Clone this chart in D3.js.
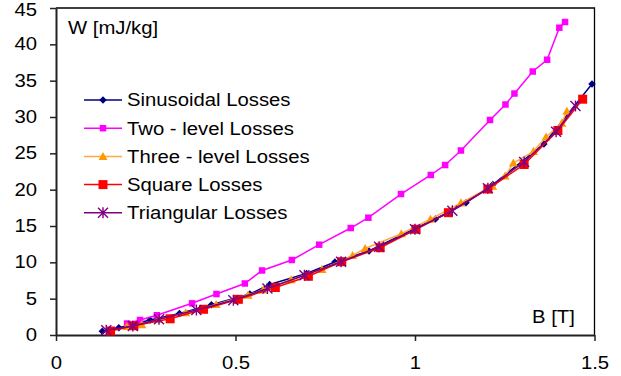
<!DOCTYPE html>
<html>
<head>
<meta charset="utf-8">
<script src="https://cdn.jsdelivr.net/npm/d3@7"></script>
<style>
  html, body { margin: 0; padding: 0; background: #fff; }
  svg { display: block; }
  text { font-family: "Liberation Sans", Arial, sans-serif; fill: #000; }
</style>
</head>
<body>
<svg id="chart" width="621" height="376"></svg>
<script>
// Flux density B [T] and energy loss W [mJ/kg] for each excitation waveform
const sinB = [0.129, 0.175, 0.262, 0.344, 0.433, 0.540, 0.595, 0.698, 0.777, 0.872, 0.997, 1.057, 1.142, 1.217, 1.359, 1.493];
const sinW = [0.50, 1.00, 2.06, 2.95, 4.15, 5.64, 6.95, 8.46, 10.05, 11.56, 14.59, 15.96, 18.20, 20.71, 26.28, 34.54];

const twoB = [0.198, 0.234, 0.281, 0.379, 0.447, 0.526, 0.574, 0.657, 0.733, 0.821, 0.870, 0.961, 1.044, 1.084, 1.128, 1.209, 1.252, 1.277, 1.328, 1.368, 1.402, 1.418];
const twoW = [1.58, 2.06, 2.72, 4.36, 5.64, 7.09, 8.88, 10.32, 12.43, 14.72, 16.14, 19.40, 22.02, 23.39, 25.39, 29.59, 31.72, 33.23, 36.26, 37.88, 42.29, 43.07];

const threeB = [0.197, 0.239, 0.285, 0.361, 0.446, 0.535, 0.577, 0.655, 0.741, 0.826, 0.861, 0.962, 1.043, 1.128, 1.216, 1.251, 1.274, 1.330, 1.365, 1.409, 1.423];
const threeW = [1.17, 1.44, 2.13, 3.07, 4.20, 5.50, 6.19, 7.61, 9.04, 10.94, 11.90, 13.94, 15.93, 18.19, 20.50, 21.88, 23.67, 25.28, 27.25, 29.17, 30.80];

const sqB = [0.152, 0.217, 0.318, 0.411, 0.508, 0.611, 0.703, 0.796, 0.903, 1.003, 1.093, 1.203, 1.304, 1.398, 1.467];
const sqW = [0.55, 1.27, 2.23, 3.54, 4.91, 6.54, 8.08, 10.09, 12.01, 14.55, 16.83, 20.09, 23.46, 28.14, 32.45];

const triB = [0.140, 0.214, 0.287, 0.391, 0.494, 0.589, 0.692, 0.794, 0.900, 1.000, 1.104, 1.203, 1.304, 1.393, 1.447];
const triW = [0.65, 1.24, 2.16, 3.44, 4.78, 6.40, 8.22, 10.09, 12.15, 14.55, 17.10, 20.19, 23.81, 27.98, 31.51];

const xTicks = [0, 0.5, 1, 1.5];
const xTickLabels = ["0", "0.5", "1", "1.5"];
const yTicks = [0, 5, 10, 15, 20, 25, 30, 35, 40, 45];

const seriesNames = ["Sinusoidal Losses", "Two - level Losses", "Three - level Losses", "Square Losses", "Triangular Losses"];

const series = [
  { name: seriesNames[0], B: sinB, W: sinW, line: "#000080", fill: "#000080", marker: "diamond", size: 7.5 },
  { name: seriesNames[1], B: twoB, W: twoW, line: "#FF00FF", fill: "#FF00FF", marker: "square", size: 6.5 },
  { name: seriesNames[2], B: threeB, W: threeW, line: "#FFAA44", fill: "#FF9900", marker: "triangle", size: 9 },
  { name: seriesNames[3], B: sqB, W: sqW, line: "#FF0000", fill: "#FF0000", marker: "square", size: 9 },
  { name: seriesNames[4], B: triB, W: triW, line: "#800080", fill: "#800080", marker: "star", size: 10 }
];

const FONT = 17.5, STRETCH = 1.16;
const svg = d3.select("#chart");
const plotL = 56, plotR = 594.5, plotT = 8, plotB = 335;

const x = d3.scaleLinear().domain([0, 1.5]).range([plotL, plotR]);
const y = d3.scaleLinear().domain([0, 45]).range([plotB, plotT]);

// widen glyphs horizontally while keeping their anchor position
function stretchText(sel) {
  sel.each(function (d) {
    const t = d3.select(this);
    const tx = +t.attr("x") || 0;
    // the topmost label sits a little lower so it stays inside the canvas
    const ty = d === 45 ? 2 : 0;
    t.attr("x", 0).attr("transform", `translate(${tx},${ty}) scale(${STRETCH},1)`);
  });
}

// plot frame (top and right edges)
svg.append("path")
  .attr("d", `M${plotL},${plotT}H${plotR}V${plotB}`)
  .attr("fill", "none").attr("stroke", "#000").attr("stroke-width", 1.3);

// axes
const yAxis = d3.axisLeft(y).tickValues(yTicks).tickFormat(d3.format("d"))
  .tickSize(6).tickSizeOuter(0).tickPadding(13);
const gy = svg.append("g").attr("transform", `translate(${plotL},0)`).call(yAxis);

const xAxis = d3.axisBottom(x).tickValues(xTicks).tickFormat((d, i) => xTickLabels[i])
  .tickSize(6).tickSizeOuter(0).tickPadding(16);
const gx = svg.append("g").attr("transform", `translate(0,${plotB})`).call(xAxis);

[gx, gy].forEach(g => {
  g.select(".domain").attr("stroke", "#222").attr("stroke-width", 2);
  g.selectAll(".tick line").attr("stroke", "#222").attr("stroke-width", 1.5);
  g.selectAll(".tick text").style("font-size", FONT + "px")
    .style("font-family", '"Liberation Sans", Arial, sans-serif').attr("fill", "#000");
});
gy.selectAll(".tick text").call(stretchText);
gx.selectAll(".tick text").attr("transform", `scale(${STRETCH},1)`);

// axis titles
svg.append("text").attr("transform", `translate(68,34) scale(${STRETCH},1)`)
  .style("font-size", FONT + "px").text("W [mJ/kg]");
svg.append("text").attr("transform", `translate(532,323) scale(${STRETCH},1)`)
  .style("font-size", FONT + "px").text("B [T]");

// marker shapes
function markerPath(type, s) {
  const h = s / 2;
  if (type === "diamond") return `M0,${-h}L${h},0L0,${h}L${-h},0Z`;
  if (type === "square") return `M${-h},${-h}H${h}V${h}H${-h}Z`;
  if (type === "triangle") return `M0,${-h}L${h},${h * 0.8}L${-h},${h * 0.8}Z`;
  // asterisk: X plus vertical stroke
  return `M${-h},${-h}L${h},${h}M${-h},${h}L${h},${-h}M0,${-h * 1.1}V${h * 1.1}`;
}
function drawMarker(g, s, cx, cy) {
  const p = g.append("path")
    .attr("transform", `translate(${cx},${cy})`)
    .attr("d", markerPath(s.marker, s.size));
  if (s.marker === "star") p.attr("fill", "none").attr("stroke", s.fill).attr("stroke-width", 1.4);
  else p.attr("fill", s.fill).attr("stroke", "none");
}

const line = d3.line().x(d => x(d[0])).y(d => y(d[1]));

series.forEach(s => {
  const pts = s.B.map((b, i) => [b, s.W[i]]);
  const g = svg.append("g");
  g.append("path").attr("d", line(pts)).attr("fill", "none")
    .attr("stroke", s.line).attr("stroke-width", 1.5);
  pts.forEach(p => drawMarker(g, s, x(p[0]), y(p[1])));
});

// legend
const legY0 = 100, legStep = 28.2;
series.forEach((s, i) => {
  const cy = legY0 + i * legStep;
  const g = svg.append("g");
  g.append("line").attr("x1", 84).attr("x2", 122).attr("y1", cy).attr("y2", cy)
    .attr("stroke", s.line).attr("stroke-width", 1.5);
  drawMarker(g, s, 103, cy);
  g.append("text").attr("transform", `translate(127,${cy + 6.3}) scale(${STRETCH},1)`)
    .style("font-size", FONT + "px").text(s.name);
});
</script>
</body>
</html>
